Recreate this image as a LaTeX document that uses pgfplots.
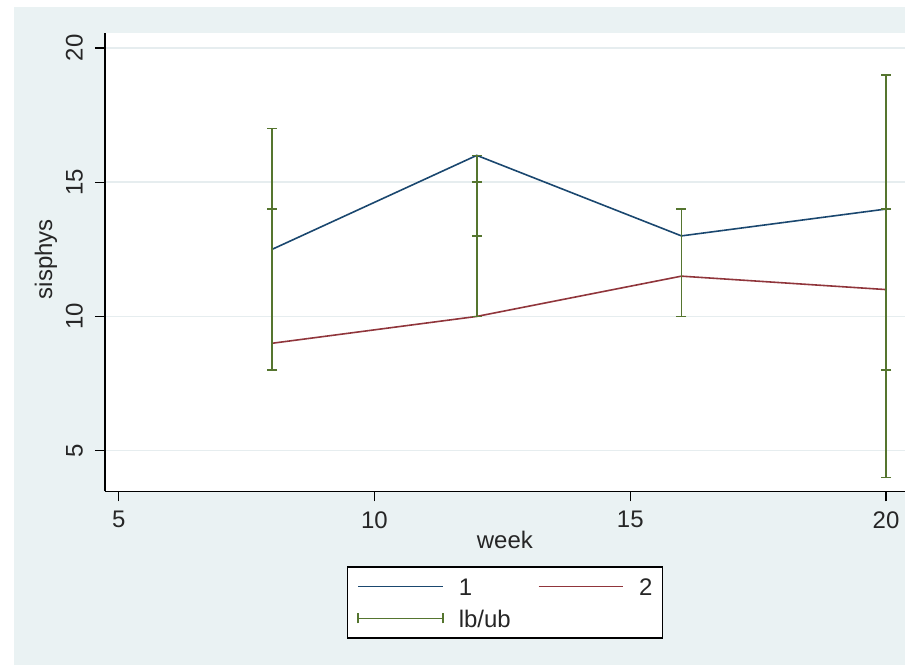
\documentclass[border=0pt]{standalone}
\usepackage{pgfplots}
\pgfplotsset{compat=1.18}
\usepackage{fontspec}
\setmainfont{Liberation Sans}
\definecolor{bgblue}{HTML}{EAF2F3}
\definecolor{gridc}{HTML}{E6EDEF}
\definecolor{s1}{HTML}{1A476F}
\definecolor{s2}{HTML}{90353B}
\definecolor{s3}{HTML}{55752F}
\begin{document}
\begin{tikzpicture}
\fill[white] (-52.5bp,-87bp) rectangle (400.5bp,246bp);
\fill[bgblue] (-45.5bp,-87bp) rectangle (400.5bp,242.5bp);
\begin{axis}[
  at={(0,0)}, anchor=south west,
  scale only axis, width=400.5bp, height=229.5bp,
  axis background/.style={fill=white},
  axis x line=bottom, axis y line=left,
  axis line style={-, black, line width=0.8pt},
  xmin=4.73, xmax=20.37, ymin=3.48, ymax=20.56,
  xtick={5,10,15,20}, ytick={5,10,15,20},
  tick align=outside, major tick length=5bp,
  tick style={black, line width=0.6pt},
  ymajorgrids, grid style={gridc, line width=0.8pt},
  /pgf/number format/assume math mode=true,
  tick label style={font=\fontsize{12bp}{14bp}\selectfont, text=black!85},
  xticklabel style={yshift=-1.5bp},
  yticklabel style={xshift=-2.5bp, rotate=90, anchor=south},
  xlabel={week}, ylabel={sisphys},
  every axis x label/.style={at={(axis description cs:0.5,0)}, anchor=center, yshift=-24.5bp, font=\fontsize{12bp}{14bp}\selectfont, text=black!85},
  every axis y label/.style={at={(axis description cs:0,0.5)}, xshift=-29.5bp, yshift=1.5bp, rotate=90, anchor=center, font=\fontsize{12bp}{14bp}\selectfont, text=black!85},
  legend columns=2,
  legend style={at={(0.5,-0.163)}, anchor=north, draw=black, line width=0.8pt, fill=white,
    font=\fontsize{12bp}{14bp}\selectfont, inner xsep=5bp, inner ysep=5.25bp,
    row sep=7bp,
    /tikz/every odd column/.append style={column sep=7.5bp},
    /tikz/every even column/.append style={column sep=13.5bp},
    nodes={inner sep=0pt, text height=9bp, text depth=0bp, text=black!85}},
  legend cell align=left,
  legend image code/.code={\draw[#1, line width=0.8pt] (0bp,0bp)--(42.5bp,0bp);},
]
\addplot[s1, line width=0.8pt] coordinates {(8,12.5) (12,16) (16,13) (20,14)};
\addlegendentry{1}
\addplot[s2, line width=0.8pt] coordinates {(8,9) (12,10) (16,11.5) (20,11)};
\addlegendentry{2}
\addplot[draw=none, mark=none,
  legend image code/.code={\draw[s3, line width=0.8pt] (0bp,0bp)--(42.5bp,0bp) (0bp,-2.5bp)--(0bp,2.5bp) (42.5bp,-2.5bp)--(42.5bp,2.5bp);},
  error bars/.cd, y dir=both, y explicit,
  error bar style={draw=s3, line width=0.8pt},
  error mark options={rotate=90, draw=s3, mark size=2.5bp, line width=0.8pt}]
coordinates {
  (8,12.5) +- (0,4.5)
  (8,11) +- (0,3)
  (12,12.5) +- (0,2.5)
  (12,14.5) +- (0,1.5)
  (16,12) +- (0,2)
  (20,9) +- (0,5)
  (20,13.5) +- (0,5.5)
};
\addlegendentry{lb/ub}
\end{axis}
\end{tikzpicture}
\end{document}
